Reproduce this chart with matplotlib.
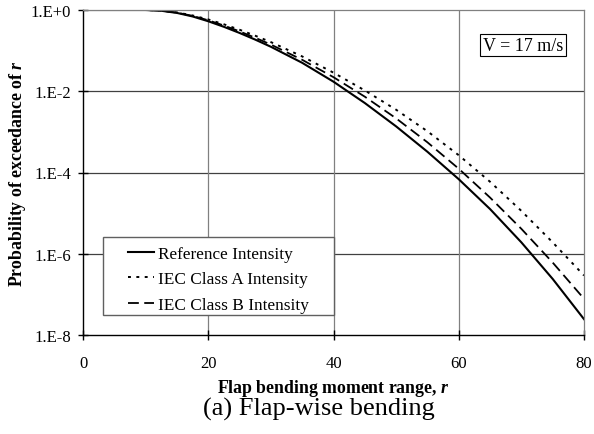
import numpy as np
import matplotlib
matplotlib.use('Agg')
import matplotlib.pyplot as plt
from matplotlib.patches import Rectangle
from matplotlib.ticker import FixedLocator, FixedFormatter

plt.rcParams['font.family'] = ['Liberation Serif', 'DejaVu Serif']
plt.rcParams['mathtext.fontset'] = 'custom'
plt.rcParams['mathtext.rm'] = 'Liberation Serif'
plt.rcParams['mathtext.it'] = 'Liberation Serif:italic'
plt.rcParams['mathtext.bf'] = 'Liberation Serif:bold'
plt.rcParams['mathtext.bfit'] = 'Liberation Serif:bold:italic'

# flap bending moment range r
r = [0, 5, 10, 12.5, 15, 17.5, 20, 22.5, 25, 27.5, 30, 35, 40, 45, 50,
     55, 60, 65, 70, 75, 80]

# log10 of probability of exceedance
log_ref = [0, 0, 0, -0.019, -0.072, -0.159, -0.277, -0.414, -0.565, -0.729,
           -0.905, -1.30, -1.765, -2.29, -2.865, -3.49, -4.165, -4.90, -5.72,
           -6.62, -7.61]
log_classA = [0, 0, 0, -0.015, -0.060, -0.134, -0.233, -0.352, -0.486, -0.633,
              -0.790, -1.143, -1.543, -1.98, -2.455, -2.985, -3.575, -4.228,
              -4.945, -5.72, -6.535]
log_classB = [0, 0, 0, -0.016, -0.065, -0.145, -0.253, -0.382, -0.526, -0.683,
              -0.851, -1.226, -1.654, -2.134, -2.667, -3.257, -3.907, -4.617,
              -5.387, -6.217, -7.107]

series_labels = ['Reference Intensity', 'IEC Class A Intensity', 'IEC Class B Intensity']

ytick_vals = [1e0, 1e-2, 1e-4, 1e-6, 1e-8]
ytick_labels = ['1.E+0', '1.E-2', '1.E-4', '1.E-6', '1.E-8']
xtick_vals = [0, 20, 40, 60, 80]

W, H = 594, 435
fig = plt.figure(figsize=(W / 100, H / 100), dpi=100)
ax = fig.add_axes([83 / W, 1 - 336 / H, 501 / W, 325 / H])

ax.plot(r, 10 ** np.array(log_ref), color='black', lw=1.5, ls='-',
        label=series_labels[0])
ax.plot(r, 10 ** np.array(log_classA), color='black', lw=1.4, ls=(0, (1.5, 2.8)),
        label=series_labels[1])
ax.plot(r, 10 ** np.array(log_classB), color='black', lw=1.3, ls=(0, (6, 3)),
        label=series_labels[2])

ax.set_yscale('log')
ax.set_xlim(0, 80)
ax.set_ylim(1e-8, 1e0)
ax.yaxis.set_major_locator(FixedLocator(ytick_vals))
ax.yaxis.set_major_formatter(FixedFormatter(ytick_labels))
ax.yaxis.set_minor_locator(FixedLocator([]))
ax.set_xticks(xtick_vals)

for v in ytick_vals[1:-1]:
    ax.axhline(v, color='#404040', lw=0.9, zorder=0)
for v in xtick_vals[1:-1]:
    ax.axvline(v, color='#808080', lw=0.9, zorder=0)

for s in ['top', 'right']:
    ax.spines[s].set_color('#808080')
    ax.spines[s].set_linewidth(0.9)
for s in ['left', 'bottom']:
    ax.spines[s].set_color('black')
    ax.spines[s].set_linewidth(1.0)

ax.tick_params(axis='x', direction='inout', length=7, width=1.0,
               labelsize=12, pad=11)
ax.tick_params(axis='y', direction='inout', length=7, width=1.0,
               labelsize=12, pad=5)

ax.set_xlabel(r'Flap bending moment range, $\mathbfit{r}$', fontsize=12.8,
              fontweight='bold', labelpad=4)
ax.set_ylabel(r'Probability of exceedance of $\mathbfit{r}$', fontsize=12.8,
              fontweight='bold', labelpad=2)

# legend box drawn by hand, Excel style fixed width
ax.add_patch(Rectangle((0.0399, 0.0615), 0.4611, 0.24, transform=ax.transAxes,
                       fc='white', ec='#606060', lw=1.0, zorder=3))
leg = ax.legend(loc='upper left', bbox_to_anchor=(0.0898, 0.274), borderaxespad=0,
                borderpad=0, fontsize=12.4, frameon=False, handlelength=1.5,
                handletextpad=0.25, labelspacing=0.54)
leg.set_zorder(4)

ax.text(0.878, 0.892, 'V = 17 m/s', transform=ax.transAxes, fontsize=13,
        ha='center', va='center',
        bbox=dict(boxstyle='square,pad=0.15', fc='white', ec='black', lw=0.8))

fig.text(319 / W, 1 - 409 / H, '(a) Flap-wise bending', fontsize=19,
         ha='center', va='center')

fig.savefig('out.png', dpi=100)
